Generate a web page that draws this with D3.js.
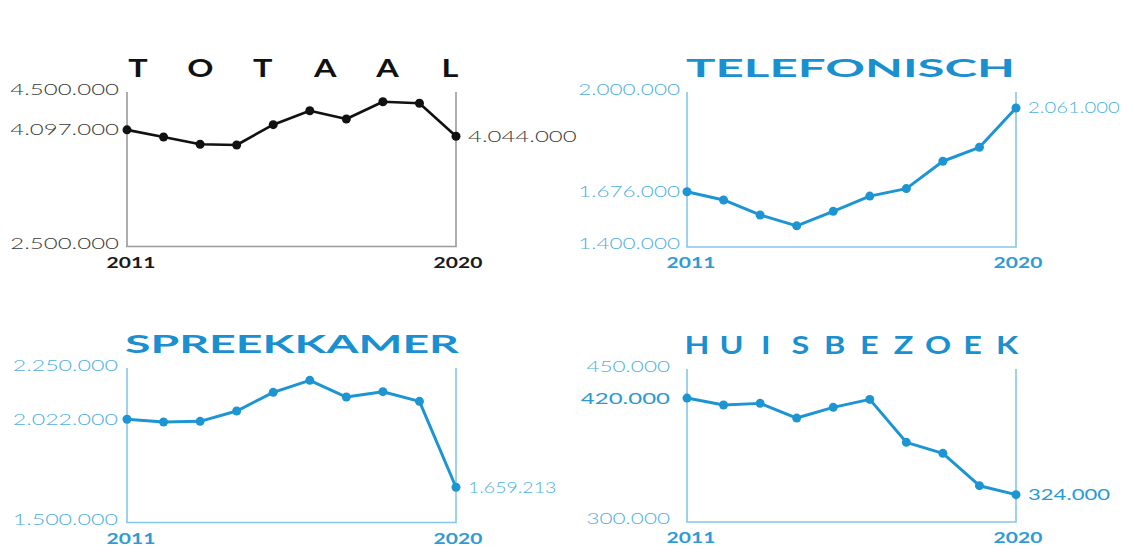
<!DOCTYPE html>
<html>
<head>
<meta charset="utf-8">
<script src="https://cdn.jsdelivr.net/npm/d3@7"></script>
<style>
  body { margin: 0; background: #fff; }
  svg { display: block; }
  text { font-family: Lato, "Open Sans", sans-serif; }
</style>
</head>
<body>
<svg id="chart" width="1134" height="548"></svg>
<script>
// data
var years = [2011, 2012, 2013, 2014, 2015, 2016, 2017, 2018, 2019, 2020]
var yearLabels = ["2011", "2020"]

var titles = ["TOTAAL", "TELEFONISCH", "SPREEKKAMER", "HUISBEZOEK"]

var totaal = [4010000, 3918000, 3823000, 3814000, 4077000, 4258000, 4150000, 4374000, 4354000, 3927000]
var telefonisch = [1614000, 1582000, 1524000, 1482000, 1538000, 1597000, 1626000, 1732000, 1786000, 1938000]
var spreekkamer = [2001000, 1988000, 1991000, 2041000, 2132000, 2190000, 2109000, 2135000, 2088000, 1671000]
var huisbezoek = [421500, 414700, 416300, 401900, 412400, 420200, 378100, 367300, 335600, 326800]

var yDomains = [[2500000, 4500000], [1400000, 2000000], [1500000, 2250000], [300000, 450000]]
var firstLabels = ["4.097.000", "1.676.000", "2.022.000", "420.000"]
var lastLabels = ["4.044.000", "2.061.000", "1.659.213", "324.000"]

var series = [totaal, telefonisch, spreekkamer, huisbezoek]

var nl = d3.formatLocale({decimal: ",", thousands: ".", grouping: [3], currency: ["€", ""]})
var fmt = nl.format(",")

// layout
var panels = [
  {x0: 127, x1: 456, top: 92, bottom: 246.5, dark: true, spaced: true, gap: 8, sx: 1.6, sxLast: 1.6},
  {x0: 687, x1: 1016, top: 92, bottom: 247, dark: false, spaced: false, gap: 7, sx: 1.5, sxLast: 1.35},
  {x0: 127, x1: 456, top: 368, bottom: 522.5, dark: false, spaced: false, gap: 9, sx: 1.55, sxLast: 1.3},
  {x0: 687, x1: 1016, top: 369, bottom: 522, dark: false, spaced: true, gap: 17, sx: 1.5, sxLast: 1.38}
]

var blue = "#1d95d3"
var blueTitle = "#1a90d0"
var blueLabel = "#4fb0e0"
var blueAxis = "#86c6e8"

var svg = d3.select("#chart")

svg.append("rect").attr("width", 1134).attr("height", 548).attr("fill", "#fff")

function stretch(sel, f) {
  sel.each(function() {
    var w = this.getComputedTextLength()
    d3.select(this).attr("textLength", w * f).attr("lengthAdjust", "spacingAndGlyphs")
  })
}

panels.forEach(function(p, i) {

  var data = series[i]

  var lineColor = p.dark ? "#111" : blue
  var axisColor = p.dark ? "#9a9a9a" : blueAxis
  var labelColor = p.dark ? "#3a3a3a" : blueLabel
  var yearColor = p.dark ? "#1a1a1a" : "#2f9bd6"
  var titleColor = p.dark ? "#111" : blueTitle

  var x = d3.scalePoint().domain(years).range([p.x0, p.x1])
  var y = d3.scaleLinear().domain(yDomains[i]).range([p.bottom, p.top])

  var g = svg.append("g")

  // title
  var letters = titles[i].split("")
  if (p.spaced) {
    var lx = d3.scalePoint().domain(d3.range(letters.length))
      .range(i == 0 ? [138, 450] : [697, 1007])
    g.selectAll("text.letter").data(letters).join("text")
      .attr("class", "letter")
      .attr("x", function(d, k) { return lx(k) })
      .attr("y", p.top - 15)
      .attr("text-anchor", "middle")
      .attr("font-family", "DejaVu Sans")
      .attr("font-weight", "bold")
      .attr("font-size", 24)
      .attr("fill", titleColor)
      .text(function(d) { return d })
      .call(stretch, 1.35)
  }
  else {
    var tx = i == 1 ? [686, 1015] : [125, 459]
    g.append("text")
      .attr("x", tx[0])
      .attr("y", p.top - 15)
      .attr("font-family", "DejaVu Sans")
      .attr("font-weight", "bold")
      .attr("font-size", 24)
      .attr("fill", titleColor)
      .attr("textLength", tx[1] - tx[0])
      .attr("lengthAdjust", "spacingAndGlyphs")
      .text(titles[i])
  }

  // axis frame: left, bottom, right
  g.append("path")
    .attr("d", "M" + p.x0 + "," + y.range()[1] + "V" + y.range()[0] + "H" + p.x1 + "V" + y.range()[1])
    .attr("fill", "none")
    .attr("stroke", axisColor)
    .attr("stroke-width", 1.6)

  // end tick labels
  g.selectAll("text.tick").data(yDomains[i]).join("text")
    .attr("class", "tick")
    .attr("x", p.x0 - p.gap)
    .attr("y", function(d, k) { return y(d) + (k == 0 ? -3 : -2) })
    .attr("dy", "0.35em")
    .attr("text-anchor", "end")
    .attr("font-size", 15)
    .attr("font-weight", 300)
    .attr("fill", labelColor)
    .text(function(d) { return fmt(d) })
    .call(stretch, p.sx)

  // first and last value labels
  var big = i == 3
  g.append("text")
    .attr("x", p.x0 - p.gap)
    .attr("y", y(data[0]))
    .attr("dy", "0.35em")
    .attr("text-anchor", "end")
    .attr("font-size", big ? 16 : 15)
    .attr("font-weight", big ? 400 : 300)
    .attr("fill", big ? "#2a9ad6" : labelColor)
    .text(firstLabels[i])
    .call(stretch, p.sx)

  g.append("text")
    .attr("x", p.x1 + 12)
    .attr("y", y(data[data.length - 1]))
    .attr("dy", "0.35em")
    .attr("font-size", big ? 16 : 15)
    .attr("font-weight", big ? 400 : 300)
    .attr("fill", big ? "#2a9ad6" : labelColor)
    .text(lastLabels[i])
    .call(stretch, p.sxLast)

  // year labels
  g.selectAll("text.year").data(yearLabels).join("text")
    .attr("class", "year")
    .attr("x", function(d, k) { return k == 0 ? p.x0 + 4 : p.x1 + 2 })
    .attr("y", p.bottom + 21)
    .attr("text-anchor", "middle")
    .attr("font-size", 15)
    .attr("font-weight", "bold")
    .attr("fill", yearColor)
    .text(function(d) { return d })
    .call(stretch, 1.4)

  // line and dots
  var line = d3.line()
    .x(function(d, k) { return x(years[k]) })
    .y(function(d) { return y(d) })

  g.append("path")
    .datum(data)
    .attr("d", line)
    .attr("fill", "none")
    .attr("stroke", lineColor)
    .attr("stroke-width", p.dark ? 2.6 : 3)
    .attr("stroke-linejoin", "round")

  g.selectAll("circle").data(data).join("circle")
    .attr("cx", function(d, k) { return x(years[k]) })
    .attr("cy", function(d) { return y(d) })
    .attr("r", 4.5)
    .attr("fill", lineColor)
})
</script>
</body>
</html>
